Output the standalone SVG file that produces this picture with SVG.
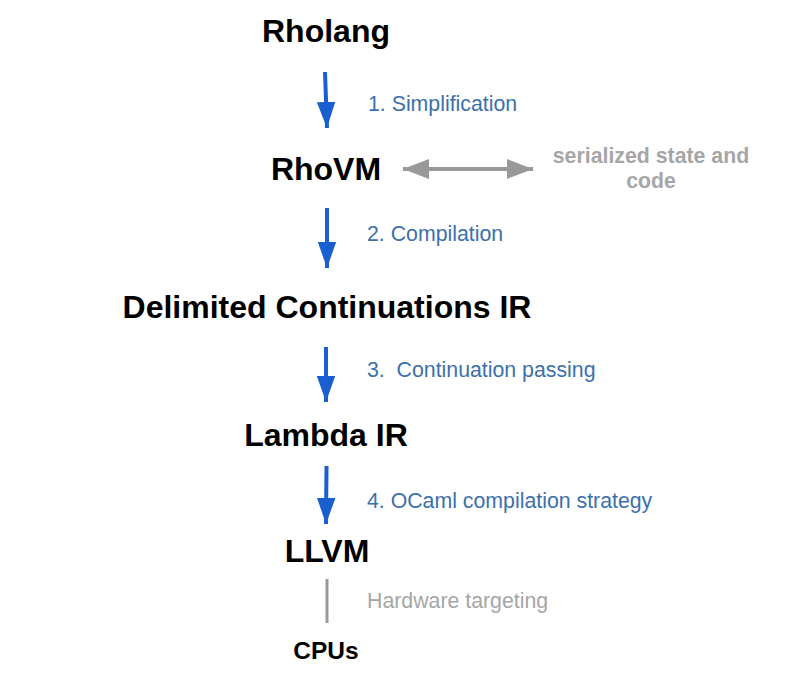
<svg xmlns="http://www.w3.org/2000/svg" width="804" height="696" viewBox="0 0 804 696">
<defs>
<style>
.title{font-family:"Liberation Sans",Arial,sans-serif;font-weight:bold;font-size:32px;fill:#000;text-anchor:middle}
.lbl{font-family:"Liberation Sans",Arial,sans-serif;font-size:21.3px;fill:#3c70ad;white-space:pre}
.gray{font-family:"Liberation Sans",Arial,sans-serif;font-size:21.3px;fill:#a6a6a6}
.blue{stroke:#1a5fd0;stroke-width:4;fill:none}
</style>
<marker id="bh" viewBox="0 0 10 10" refX="10" refY="5" markerWidth="6.5" markerHeight="4.6" orient="auto" markerUnits="strokeWidth" preserveAspectRatio="none">
<path d="M0,0 L10,5 L0,10 Z" fill="#1a5fd0"/>
</marker>
<marker id="gh" viewBox="0 0 10 10" refX="10" refY="5" markerWidth="6.5" markerHeight="5" orient="auto-start-reverse" markerUnits="strokeWidth" preserveAspectRatio="none">
<path d="M0,0 L10,5 L0,10 Z" fill="#999"/>
</marker>
</defs>
<rect width="804" height="696" fill="#fff"/>
<g id="connectors">
<line class="blue" x1="325" y1="72" x2="327" y2="128" marker-end="url(#bh)"/>
<line class="blue" x1="327" y1="208" x2="327" y2="268" marker-end="url(#bh)"/>
<line class="blue" x1="326" y1="347" x2="326" y2="402" marker-end="url(#bh)"/>
<line class="blue" x1="326.5" y1="466" x2="326" y2="524" marker-end="url(#bh)"/>
<line x1="403" y1="169" x2="533" y2="169" stroke="#999" stroke-width="4" marker-start="url(#gh)" marker-end="url(#gh)"/>
<line x1="327" y1="579" x2="327" y2="623" stroke="#999" stroke-width="3"/>
<text class="lbl" x="368" y="111">1. Simplification</text>
<text class="lbl" x="367" y="241">2. Compilation</text>
<text class="lbl" x="367" y="377">3.  Continuation passing</text>
<text class="lbl" x="367" y="508">4. OCaml compilation strategy</text>
<text class="gray" x="367" y="608">Hardware targeting</text>
</g>
<g id="rholang"><text class="title" x="326" y="42">Rholang</text></g>
<g id="rhovm"><text class="title" x="326" y="180">RhoVM</text></g>
<g id="serialized"><text class="gray" x="651" y="163" text-anchor="middle" font-weight="bold">serialized state and</text><text class="gray" x="651" y="188" text-anchor="middle" font-weight="bold">code</text></g>
<g id="dcir"><text class="title" x="327" y="318">Delimited Continuations IR</text></g>
<g id="lambda"><text class="title" x="326" y="446">Lambda IR</text></g>
<g id="llvm"><text class="title" x="327" y="562">LLVM</text></g>
<g id="cpus"><text class="title" x="326" y="659" style="font-size:24.5px">CPUs</text></g>
</svg>
